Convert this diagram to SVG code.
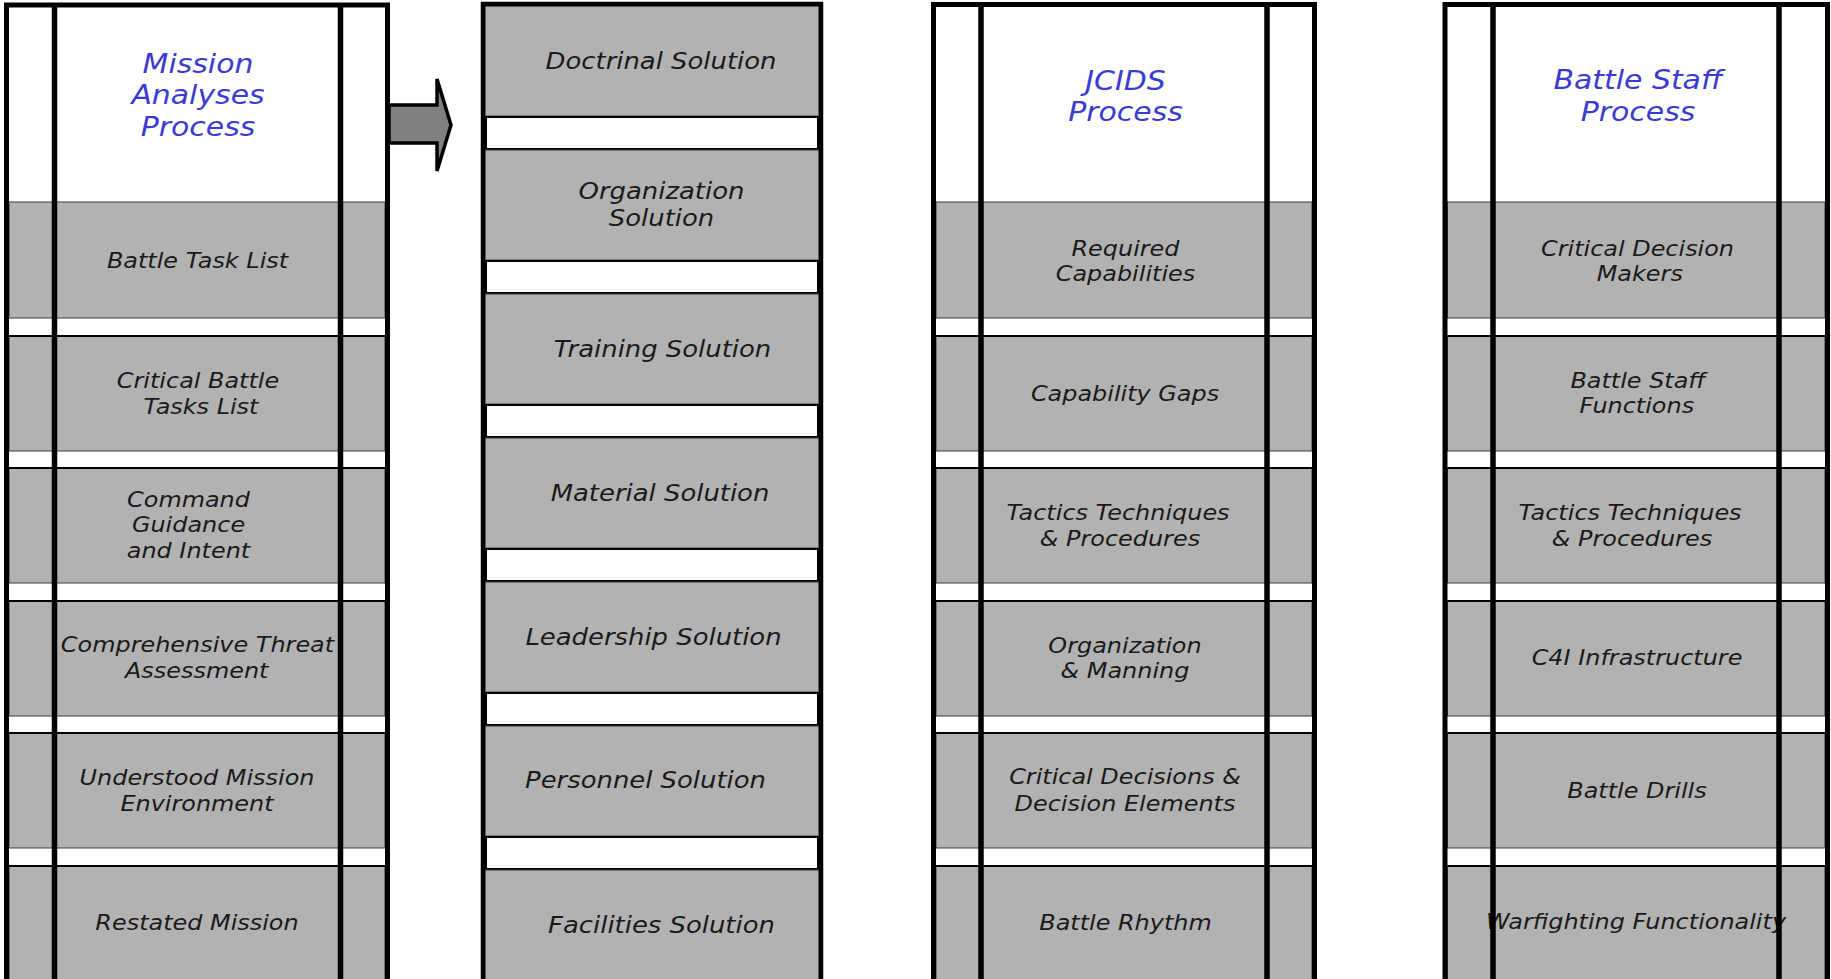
<svg xmlns="http://www.w3.org/2000/svg" width="1831" height="979" viewBox="0 0 1831 979">
<style>
.bg{fill:#fff}
.g{fill:#b2b2b2;stroke:#3a3a3a;stroke-width:1}
.gb{stroke:#000;stroke-width:2}
.gap{fill:#fff;stroke:#000;stroke-width:2}
.frame{fill:none;stroke:#000;stroke-width:5}
.v{stroke:#000;stroke-width:5.5}
.t{font-family:"DejaVu Sans",Verdana,sans-serif;font-style:italic;font-size:20.8px;fill:#1a1a1a;text-anchor:middle}
.h{font-size:26px;fill:#3b3bd4}
.s{font-size:22.5px}
.arrow{fill:#808080;stroke:#000;stroke-width:3.5;stroke-linejoin:miter}
</style>

<!-- Column 1: Mission Analyses Process -->
<g id="col-mission">
  <rect class="bg" x="6.5" y="5" width="381" height="980"/>
  <g id="m-header">
    <text class="t h" transform="translate(198 73) scale(1.15 1)"><tspan x="0" y="0">Mission</tspan><tspan x="0" y="31.5">Analyses</tspan><tspan x="0" y="63">Process</tspan></text>
  </g>
  <g id="m-battle-task-list">
    <rect class="g" x="9" y="202" width="376" height="116"/>
    <text class="t" transform="translate(197.5 268) scale(1.15 1)">Battle Task List</text>
  </g>
  <g id="m-critical-battle-tasks">
    <rect class="g" x="9" y="336" width="376" height="115"/>
    <line class="gb" x1="9" y1="336" x2="385" y2="336"/>
    <text class="t" transform="translate(198 388) scale(1.15 1)"><tspan x="0" y="0">Critical Battle</tspan><tspan x="2.6" y="26">Tasks List</tspan></text>
  </g>
  <g id="m-command-guidance">
    <rect class="g" x="9" y="468" width="376" height="115"/>
    <line class="gb" x1="9" y1="468" x2="385" y2="468"/>
    <text class="t" transform="translate(188.5 507) scale(1.15 1)"><tspan x="0" y="0">Command</tspan><tspan x="0" y="25.5">Guidance</tspan><tspan x="0" y="51">and Intent</tspan></text>
  </g>
  <g id="m-threat-assessment">
    <rect class="g" x="9" y="601" width="376" height="115"/>
    <line class="gb" x1="9" y1="601" x2="385" y2="601"/>
    <text class="t" transform="translate(197.5 652) scale(1.15 1)"><tspan x="0" y="0">Comprehensive Threat</tspan><tspan x="-0.7" y="26">Assessment</tspan></text>
  </g>
  <g id="m-mission-environment">
    <rect class="g" x="9" y="733" width="376" height="115"/>
    <line class="gb" x1="9" y1="733" x2="385" y2="733"/>
    <text class="t" transform="translate(197 785) scale(1.15 1)"><tspan x="0" y="0">Understood Mission</tspan><tspan x="0" y="26">Environment</tspan></text>
  </g>
  <g id="m-restated-mission">
    <rect class="g" x="9" y="866" width="376" height="120"/>
    <line class="gb" x1="9" y1="866" x2="385" y2="866"/>
    <text class="t" transform="translate(197 930) scale(1.15 1)">Restated Mission</text>
  </g>
  <path class="frame" d="M6.5 985V5H387.5V985"/>
  <line class="v" x1="54.5" y1="5" x2="54.5" y2="985"/>
  <line class="v" x1="340.5" y1="5" x2="340.5" y2="985"/>
</g>

<!-- Column 2: Solutions -->
<g id="col-solutions">
  <rect class="bg" x="483" y="4" width="338" height="980"/>
  <g id="s-doctrinal">
    <rect class="g" x="485" y="6" width="334" height="110"/>
    <text class="t s" transform="translate(661 69) scale(1.15 1)">Doctrinal Solution</text>
  </g>
  <rect class="gap" x="486" y="117" width="332" height="32"/>
  <g id="s-organization">
    <rect class="g" x="485" y="150" width="334" height="110"/>
    <text class="t s" transform="translate(661.5 199) scale(1.15 1)"><tspan x="0" y="0">Organization</tspan><tspan x="0" y="27.5">Solution</tspan></text>
  </g>
  <rect class="gap" x="486" y="261" width="332" height="32"/>
  <g id="s-training">
    <rect class="g" x="485" y="294" width="334" height="110"/>
    <text class="t s" transform="translate(662.5 357) scale(1.15 1)">Training Solution</text>
  </g>
  <rect class="gap" x="486" y="405" width="332" height="32"/>
  <g id="s-material">
    <rect class="g" x="485" y="438" width="334" height="110"/>
    <text class="t s" transform="translate(660 501) scale(1.15 1)">Material Solution</text>
  </g>
  <rect class="gap" x="486" y="549" width="332" height="32"/>
  <g id="s-leadership">
    <rect class="g" x="485" y="582" width="334" height="110"/>
    <text class="t s" transform="translate(653.5 644.5) scale(1.15 1)">Leadership Solution</text>
  </g>
  <rect class="gap" x="486" y="693" width="332" height="32"/>
  <g id="s-personnel">
    <rect class="g" x="485" y="726" width="334" height="110"/>
    <text class="t s" transform="translate(645.5 788) scale(1.15 1)">Personnel Solution</text>
  </g>
  <rect class="gap" x="486" y="837" width="332" height="32"/>
  <g id="s-facilities">
    <rect class="g" x="485" y="870" width="334" height="116"/>
    <text class="t s" transform="translate(661.5 933) scale(1.15 1)">Facilities Solution</text>
  </g>
  <path class="frame" style="stroke-width:4.5" d="M483 985V4H821V985"/>
</g>

<!-- Column 3: JCIDS Process -->
<g id="col-jcids">
  <rect class="bg" x="933.5" y="4.5" width="381" height="980"/>
  <g id="j-header">
    <text class="t h" transform="translate(1125.5 89.5) scale(1.15 1)"><tspan x="0" y="0">JCIDS</tspan><tspan x="0" y="31.5">Process</tspan></text>
  </g>
  <g id="j-required-capabilities">
    <rect class="g" x="936" y="202" width="376" height="116"/>
    <text class="t" transform="translate(1125.5 256) scale(1.15 1)"><tspan x="0" y="0">Required</tspan><tspan x="0" y="25">Capabilities</tspan></text>
  </g>
  <g id="j-capability-gaps">
    <rect class="g" x="936" y="336" width="376" height="115"/>
    <line class="gb" x1="936" y1="336" x2="1312" y2="336"/>
    <text class="t" transform="translate(1125 401) scale(1.15 1)">Capability Gaps</text>
  </g>
  <g id="j-ttp">
    <rect class="g" x="936" y="468" width="376" height="115"/>
    <line class="gb" x1="936" y1="468" x2="1312" y2="468"/>
    <text class="t" transform="translate(1118 520) scale(1.15 1)"><tspan x="0" y="0">Tactics Techniques</tspan><tspan x="1.7" y="25.7">&amp; Procedures</tspan></text>
  </g>
  <g id="j-organization-manning">
    <rect class="g" x="936" y="601" width="376" height="115"/>
    <line class="gb" x1="936" y1="601" x2="1312" y2="601"/>
    <text class="t" transform="translate(1125 652.7) scale(1.15 1)"><tspan x="0" y="0">Organization</tspan><tspan x="0" y="25.3">&amp; Manning</tspan></text>
  </g>
  <g id="j-critical-decisions">
    <rect class="g" x="936" y="733" width="376" height="115"/>
    <line class="gb" x1="936" y1="733" x2="1312" y2="733"/>
    <text class="t" transform="translate(1125 784.3) scale(1.15 1)"><tspan x="0" y="0">Critical Decisions &amp;</tspan><tspan x="0" y="26.4">Decision Elements</tspan></text>
  </g>
  <g id="j-battle-rhythm">
    <rect class="g" x="936" y="866" width="376" height="120"/>
    <line class="gb" x1="936" y1="866" x2="1312" y2="866"/>
    <text class="t" transform="translate(1125.5 930) scale(1.15 1)">Battle Rhythm</text>
  </g>
  <path class="frame" d="M933.5 985V4.5H1314.5V985"/>
  <line class="v" x1="981" y1="4.5" x2="981" y2="985"/>
  <line class="v" x1="1267" y1="4.5" x2="1267" y2="985"/>
</g>

<!-- Column 4: Battle Staff Process -->
<g id="col-battle-staff">
  <rect class="bg" x="1445" y="4.5" width="382.5" height="980"/>
  <g id="b-header">
    <text class="t h" transform="translate(1638 89) scale(1.15 1)"><tspan x="0" y="0">Battle Staff</tspan><tspan x="0" y="31.7">Process</tspan></text>
  </g>
  <g id="b-critical-decision-makers">
    <rect class="g" x="1447.5" y="202" width="377.5" height="116"/>
    <text class="t" transform="translate(1637.5 256) scale(1.15 1)"><tspan x="0" y="0">Critical Decision</tspan><tspan x="2" y="25">Makers</tspan></text>
  </g>
  <g id="b-battle-staff-functions">
    <rect class="g" x="1447.5" y="336" width="377.5" height="115"/>
    <line class="gb" x1="1447.5" y1="336" x2="1825" y2="336"/>
    <text class="t" transform="translate(1638 388.3) scale(1.15 1)"><tspan x="0" y="0">Battle Staff</tspan><tspan x="-1" y="25">Functions</tspan></text>
  </g>
  <g id="b-ttp">
    <rect class="g" x="1447.5" y="468" width="377.5" height="115"/>
    <line class="gb" x1="1447.5" y1="468" x2="1825" y2="468"/>
    <text class="t" transform="translate(1630 520) scale(1.15 1)"><tspan x="0" y="0">Tactics Techniques</tspan><tspan x="1.7" y="25.7">&amp; Procedures</tspan></text>
  </g>
  <g id="b-c4i">
    <rect class="g" x="1447.5" y="601" width="377.5" height="115"/>
    <line class="gb" x1="1447.5" y1="601" x2="1825" y2="601"/>
    <text class="t" transform="translate(1637 665) scale(1.15 1)">C4I Infrastructure</text>
  </g>
  <g id="b-battle-drills">
    <rect class="g" x="1447.5" y="733" width="377.5" height="115"/>
    <line class="gb" x1="1447.5" y1="733" x2="1825" y2="733"/>
    <text class="t" transform="translate(1637 797.7) scale(1.15 1)">Battle Drills</text>
  </g>
  <g id="b-warfighting">
    <rect class="g" x="1447.5" y="866" width="377.5" height="120"/>
    <line class="gb" x1="1447.5" y1="866" x2="1825" y2="866"/>
    <text class="t" transform="translate(1636 929.3) scale(1.15 1)">Warfighting Functionality</text>
  </g>
  <path class="frame" d="M1445 985V4.5H1827.5V985"/>
  <line class="v" x1="1493" y1="4.5" x2="1493" y2="985"/>
  <line class="v" x1="1779" y1="4.5" x2="1779" y2="985"/>
</g>

<!-- Connectors -->
<g id="connectors">
  <polygon class="arrow" points="389,105 437,105 437,79 451,125 437,171 437,143 389,143"/>
</g>
</svg>
